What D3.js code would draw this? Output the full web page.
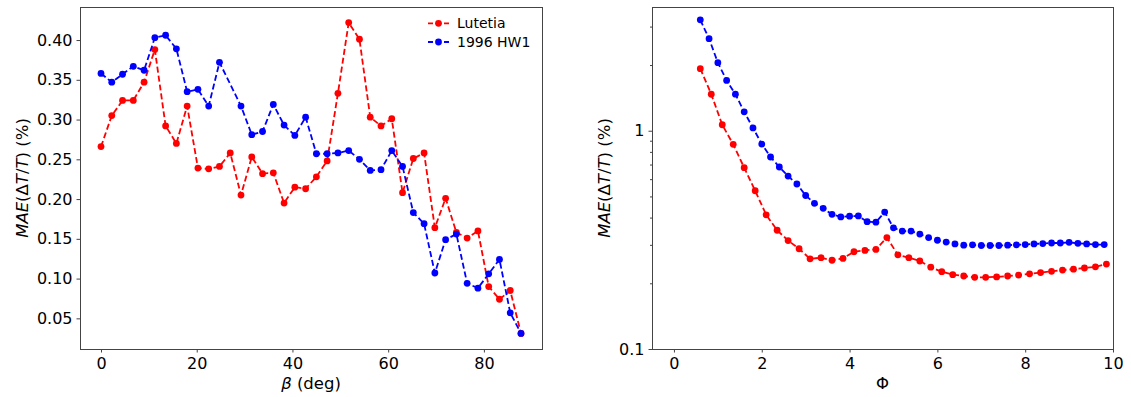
<!DOCTYPE html>
<html lang="en">
<head>
<meta charset="UTF-8">
<title>MAE vs beta and Phi</title>
<script src="https://d3js.org/d3.v7.min.js"></script>
<style>
  body { margin: 0; background: #fff; }
  text { font-family: "DejaVu Sans", sans-serif; fill: #000; }
  .tick text { font-size: 16px; }
  .tick line { stroke: #444; }
  .domain { display: none; }
  .frame { fill: none; stroke: #444; stroke-width: 1; shape-rendering: crispEdges; }
</style>
</head>
<body>
<div id="chart"></div>
<script>
var width = 1131, height = 397;

// left panel: MAE vs beta
var betaLutetia = [0, 2.25, 4.5, 6.75, 9, 11.25, 13.5, 15.75, 18, 20.25, 22.5, 24.75, 27, 29.25, 31.5, 33.75, 36, 38.25, 40.5, 42.75,
  45, 47.25, 49.5, 51.75, 54, 56.25, 58.5, 60.75, 63, 65.25, 67.5, 69.75, 72, 74.25, 76.5, 78.75, 81, 83.25, 85.5, 87.75];
var maeLutetia = [0.266, 0.305, 0.324, 0.324, 0.347, 0.388, 0.292, 0.270, 0.317, 0.239, 0.238, 0.241, 0.258, 0.205, 0.253, 0.232, 0.233, 0.195, 0.215, 0.213,
  0.228, 0.248, 0.333, 0.422, 0.401, 0.303, 0.292, 0.301, 0.208, 0.251, 0.258, 0.164, 0.201, 0.158, 0.151, 0.160, 0.090, 0.074, 0.085, 0.031];
// 1996 HW1 has no point at 27 deg
var betaHW1 = [0, 2.25, 4.5, 6.75, 9, 11.25, 13.5, 15.75, 18, 20.25, 22.5, 24.75, 29.25, 31.5, 33.75, 36, 38.25, 40.5, 42.75,
  45, 47.25, 49.5, 51.75, 54, 56.25, 58.5, 60.75, 63, 65.25, 67.5, 69.75, 72, 74.25, 76.5, 78.75, 81, 83.25, 85.5, 87.75];
var maeHW1 = [0.358, 0.347, 0.357, 0.367, 0.362, 0.403, 0.406, 0.389, 0.335, 0.338, 0.317, 0.372, 0.317, 0.281, 0.285, 0.319, 0.293, 0.280, 0.303,
  0.257, 0.257, 0.258, 0.261, 0.250, 0.236, 0.237, 0.261, 0.241, 0.183, 0.169, 0.107, 0.149, 0.156, 0.094, 0.088, 0.106, 0.124, 0.057, 0.031];

// right panel: MAE vs Phi (log y)
var phiLutetia = [0.6, 0.85, 1.1, 1.35, 1.6, 1.85, 2.1, 2.35, 2.6, 2.85, 3.1, 3.35, 3.6, 3.85, 4.1, 4.35, 4.6, 4.85, 5.1,
  5.35, 5.6, 5.85, 6.1, 6.35, 6.6, 6.85, 7.1, 7.35, 7.6, 7.85, 8.1, 8.35, 8.6, 8.85, 9.1, 9.35, 9.6, 9.85];
var phiMaeLutetia = [1.925, 1.469, 1.065, 0.866, 0.677, 0.531, 0.412, 0.350, 0.314, 0.288, 0.259, 0.262, 0.255, 0.260, 0.279, 0.283, 0.286, 0.324, 0.270,
  0.262, 0.253, 0.237, 0.226, 0.219, 0.216, 0.213, 0.213, 0.214, 0.216, 0.218, 0.221, 0.224, 0.227, 0.230, 0.232, 0.235, 0.238, 0.245];
var phiHW1 = [0.6, 0.8, 1.0, 1.2, 1.4, 1.6, 1.8, 2.0, 2.2, 2.4, 2.6, 2.8, 3.0, 3.2, 3.4, 3.6, 3.8, 4.0, 4.2, 4.4, 4.6, 4.8, 5.0, 5.2,
  5.4, 5.6, 5.8, 6.0, 6.2, 6.4, 6.6, 6.8, 7.0, 7.2, 7.4, 7.6, 7.8, 8.0, 8.2, 8.4, 8.6, 8.8, 9.0, 9.2, 9.4, 9.6, 9.8];
var phiMaeHW1 = [3.22, 2.64, 2.05, 1.70, 1.47, 1.22, 1.03, 0.869, 0.758, 0.682, 0.620, 0.570, 0.505, 0.465, 0.441, 0.414, 0.403, 0.406, 0.407, 0.383, 0.381, 0.424, 0.359, 0.347,
  0.347, 0.336, 0.324, 0.315, 0.309, 0.303, 0.299, 0.300, 0.298, 0.298, 0.298, 0.299, 0.300, 0.301, 0.303, 0.304, 0.306, 0.306, 0.308, 0.305, 0.303, 0.301, 0.301];

var betaTicks = [0, 20, 40, 60, 80];
var maeTicks = [0.05, 0.10, 0.15, 0.20, 0.25, 0.30, 0.35, 0.40];
var phiTicks = [0, 2, 4, 6, 8, 10];
var logMajor = [0.1, 1];
var logMinor = [0.2, 0.3, 0.4, 0.5, 0.6, 0.7, 0.8, 0.9, 2, 3];

var seriesNames = ["Lutetia", "1996 HW1"];
var seriesColors = ["#ff0000", "#0000ff"];

var plotTop = 7, plotBottom = 349;
var left1 = 80, right1 = 542;
var left2 = 652, right2 = 1113;

var svg = d3.select("#chart").append("svg")
    .attr("width", width)
    .attr("height", height);

// matplotlib-like 5% margins
function padded(vals) {
  var lo = d3.min(vals), hi = d3.max(vals), m = (hi - lo) * 0.05;
  return [lo - m, hi + m];
}

var x1 = d3.scaleLinear().domain(padded(betaLutetia.concat(betaHW1))).range([left1, right1]);
var y1 = d3.scaleLinear().domain(padded(maeLutetia.concat(maeHW1))).range([plotBottom, plotTop]);

var logAll = phiMaeLutetia.concat(phiMaeHW1).map(Math.log10);
var x2 = d3.scaleLinear().domain([-0.5, 10]).range([left2, right2]);
var y2 = d3.scaleLog().domain([0.1, Math.pow(10, padded(logAll)[1])]).range([plotBottom, plotTop]);

// axes
svg.append("g").attr("transform", "translate(0," + plotBottom + ")")
    .call(d3.axisBottom(x1).tickValues(betaTicks).tickSize(3.5).tickPadding(5.5).tickFormat(d3.format("d")));
svg.append("g").attr("transform", "translate(" + left1 + ",0)")
    .call(d3.axisLeft(y1).tickValues(maeTicks).tickSize(3.5).tickPadding(4).tickFormat(d3.format(".2f")));

svg.append("g").attr("transform", "translate(0," + plotBottom + ")")
    .call(d3.axisBottom(x2).tickValues(phiTicks).tickSize(3.5).tickPadding(5.5).tickFormat(d3.format("d")));
svg.append("g").attr("transform", "translate(" + left2 + ",0)")
    .call(d3.axisLeft(y2).tickValues(logMajor).tickSize(3.5).tickPadding(4).tickFormat(function(d) { return d < 1 ? "0.1" : "1"; }));
svg.append("g").attr("transform", "translate(" + left2 + ",0)")
    .call(d3.axisLeft(y2).tickValues(logMinor).tickSize(2).tickFormat(""));

svg.selectAll(".tick line").attr("stroke-width", 1);

// frames
svg.append("rect").attr("class", "frame")
    .attr("x", left1 + 0.5).attr("y", plotTop + 0.5).attr("width", right1 - left1).attr("height", plotBottom - plotTop);
svg.append("rect").attr("class", "frame")
    .attr("x", left2 + 0.5).attr("y", plotTop + 0.5).attr("width", right2 - left2).attr("height", plotBottom - plotTop);

function drawSeries(xs, ys, xScale, yScale, color) {
  var pts = xs.map(function(d, i) { return [d, ys[i]]; });
  var line = d3.line()
      .x(function(d) { return xScale(d[0]); })
      .y(function(d) { return yScale(d[1]); });
  svg.append("path")
      .datum(pts)
      .attr("d", line)
      .attr("fill", "none")
      .attr("stroke", color)
      .attr("stroke-width", 1.8)
      .attr("stroke-dasharray", "6,3");
  svg.append("g").selectAll("circle")
      .data(pts)
      .enter().append("circle")
      .attr("cx", function(d) { return xScale(d[0]); })
      .attr("cy", function(d) { return yScale(d[1]); })
      .attr("r", 3.4)
      .attr("fill", color);
}

drawSeries(betaLutetia, maeLutetia, x1, y1, seriesColors[0]);
drawSeries(betaHW1, maeHW1, x1, y1, seriesColors[1]);
drawSeries(phiLutetia, phiMaeLutetia, x2, y2, seriesColors[0]);
drawSeries(phiHW1, phiMaeHW1, x2, y2, seriesColors[1]);

// legend
var legend = svg.append("g").selectAll("g")
    .data(seriesNames)
    .enter().append("g")
    .attr("transform", function(d, i) { return "translate(428," + (23.3 + i * 18.7) + ")"; });
legend.append("line")
    .attr("x1", 0).attr("x2", 21)
    .attr("stroke", function(d, i) { return seriesColors[i]; })
    .attr("stroke-width", 1.8)
    .attr("stroke-dasharray", "5,3");
legend.append("circle")
    .attr("cx", 10.5).attr("r", 3.4)
    .attr("fill", function(d, i) { return seriesColors[i]; });
legend.append("text")
    .attr("x", 29).attr("dy", "0.36em")
    .style("font-size", "14px")
    .text(function(d) { return d; });

// axis labels
svg.append("text")
    .attr("x", (left1 + right1) / 2).attr("y", 389)
    .attr("text-anchor", "middle")
    .style("font-size", "16.5px")
    .html('<tspan font-style="italic">β</tspan> (deg)');
svg.append("text")
    .attr("x", (left2 + right2) / 2).attr("y", 389)
    .attr("text-anchor", "middle")
    .style("font-size", "16.5px")
    .text("Φ");

function yLabel(x) {
  svg.append("text")
      .attr("transform", "translate(" + x + "," + ((plotTop + plotBottom) / 2) + ") rotate(-90)")
      .attr("text-anchor", "middle")
      .style("font-size", "16.5px")
      .html('<tspan font-style="italic">MAE</tspan>(Δ<tspan font-style="italic">T</tspan>/<tspan font-style="italic">T</tspan>) (%)');
}
yLabel(28);
yLabel(610);
</script>
</body>
</html>
